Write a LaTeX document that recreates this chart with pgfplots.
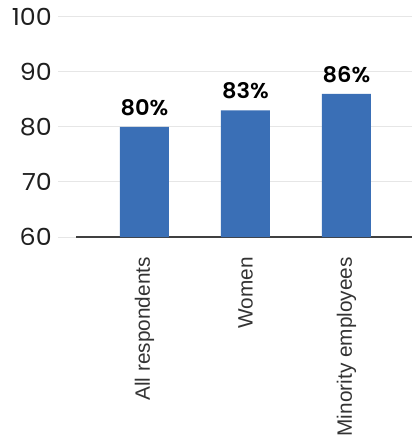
\documentclass[border=0pt]{standalone}
\usepackage{fontspec}
\usepackage{pgfplots}
\pgfplotsset{compat=1.18}
\setmainfont{Liberation Sans}
\newfontfamily\numfont[FakeStretch=1.08]{Poppins}
\newfontfamily\numfontsb[FakeStretch=1.05]{Poppins SemiBold}
\definecolor{barblue}{HTML}{3A6FB6}
\definecolor{gridgray}{HTML}{E6E6E6}
\definecolor{axisdark}{HTML}{404040}
\definecolor{labelgray}{HTML}{333333}

\pgfplotstableread{
x  value
0  80
1  83
2  86
}\trusttable

\begin{document}
\begin{tikzpicture}
\begin{axis}[
  at={(0pt,0pt)}, anchor=south west,
  scale only axis,
  width=336pt, height=220pt,
  xmin=-0.678, xmax=2.649,
  ymin=60, ymax=100,
  ytick={60,70,80,90,100},
  xtick=data,
  xticklabels={All respondents, Women, Minority employees},
  axis lines*=left,
  y axis line style={draw=none},
  x axis line style={draw=axisdark, line width=2.3pt},
  ymajorgrids,
  grid style={draw=gridgray, line width=1pt},
  ytick style={draw=gridgray, line width=1pt},
  tick align=outside,
  major tick length=18pt,
  xtick style={draw=none},
  yticklabel style={font=\fontsize{23.5}{23.5}\numfont, text=black!88, anchor=east, inner sep=0pt, xshift=-6pt},
  xticklabel style={font=\fontsize{20.8}{20.8}\selectfont, text=labelgray, rotate=90, anchor=east, inner sep=0pt, xshift=-2pt},
  /pgf/number format/assume math mode=true,
  ybar, bar width=49pt,
  nodes near coords={\pgfmathprintnumber{\pgfplotspointmeta}\%},
  nodes near coords style={font=\fontsize{21.5}{21.5}\numfontsb, text=black, inner sep=0pt, yshift=11pt, anchor=south},
  clip=false,
]
\addplot[fill=barblue, draw=none] table[x=x, y=value] {\trusttable};
\end{axis}
\pgfresetboundingbox
\path (-76pt,-198pt) rectangle (340pt,237pt);
\end{tikzpicture}
\end{document}
